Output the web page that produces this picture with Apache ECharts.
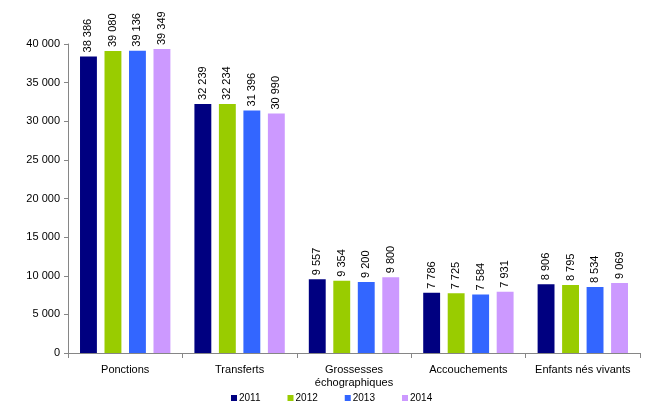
<!DOCTYPE html>
<html><head><meta charset="utf-8">
<script src="https://cdn.jsdelivr.net/npm/echarts@6/dist/echarts.min.js"></script>
<style>html,body{margin:0;padding:0;background:#fff}#c{width:650px;height:417px}</style>
</head><body><div id="c"></div>
<script>
var categories = ['Ponctions', 'Transferts', 'Grossesses\néchographiques', 'Accouchements', 'Enfants nés vivants'];
var years = ['2011', '2012', '2013', '2014'];
var v2011 = [38386, 32239, 9557, 7786, 8906];
var v2012 = [39080, 32234, 9354, 7725, 8795];
var v2013 = [39136, 31396, 9200, 7584, 8534];
var v2014 = [39349, 30990, 9800, 7931, 9069];
var yTicks = [0, 5000, 10000, 15000, 20000, 25000, 30000, 35000, 40000];
var colors = ['#000080', '#99CC00', '#3366FF', '#CC99FF'];

function fmt(n){ return String(n).replace(/\B(?=(\d{3})+(?!\d))/g, ' '); }
var font = 'Liberation Sans, Arial, sans-serif';
var seriesData = [v2011, v2012, v2013, v2014];
var chart = echarts.init(document.getElementById('c'));
chart.setOption({
  animation: false,
  textStyle: {fontFamily: font},
  grid: {left: 68, right: 10, top: 44, bottom: 64},
  legend: {
    bottom: 9, left: 226, itemWidth: 6, itemHeight: 6, itemGap: 27,
    icon: 'rect', textStyle: {fontSize: 10, color: '#000', fontFamily: font, padding: [0, 0, 0, -3]},
    data: years
  },
  xAxis: {
    type: 'category', data: categories,
    axisLine: {lineStyle: {color: '#868686'}},
    axisTick: {show: true, interval: 0, inside: false, length: 5, lineStyle: {color: '#868686'}},
    axisLabel: {interval: 0, fontSize: 11, color: '#000', fontFamily: font, margin: 10, lineHeight: 13}
  },
  yAxis: {
    type: 'value', min: yTicks[0], max: yTicks[yTicks.length-1], interval: 5000,
    splitLine: {show: false},
    axisLine: {show: true, lineStyle: {color: '#868686'}},
    axisTick: {show: true, length: 4, lineStyle: {color: '#868686'}},
    axisLabel: {fontSize: 11, color: '#000', fontFamily: font, margin: 8, formatter: function(v){return fmt(v);}}
  },
  series: years.map(function(y, i){
    return {
      name: y, type: 'bar', data: seriesData[i],
      itemStyle: {color: colors[i]},
      barGap: '45%', barCategoryGap: '21%',
      label: {show: true, position: 'top', rotate: 90, align: 'left', verticalAlign: 'middle',
        distance: 4, fontSize: 11, color: '#000', fontFamily: font,
        formatter: function(p){return fmt(p.value);}}
    };
  })
});
</script></body></html>
